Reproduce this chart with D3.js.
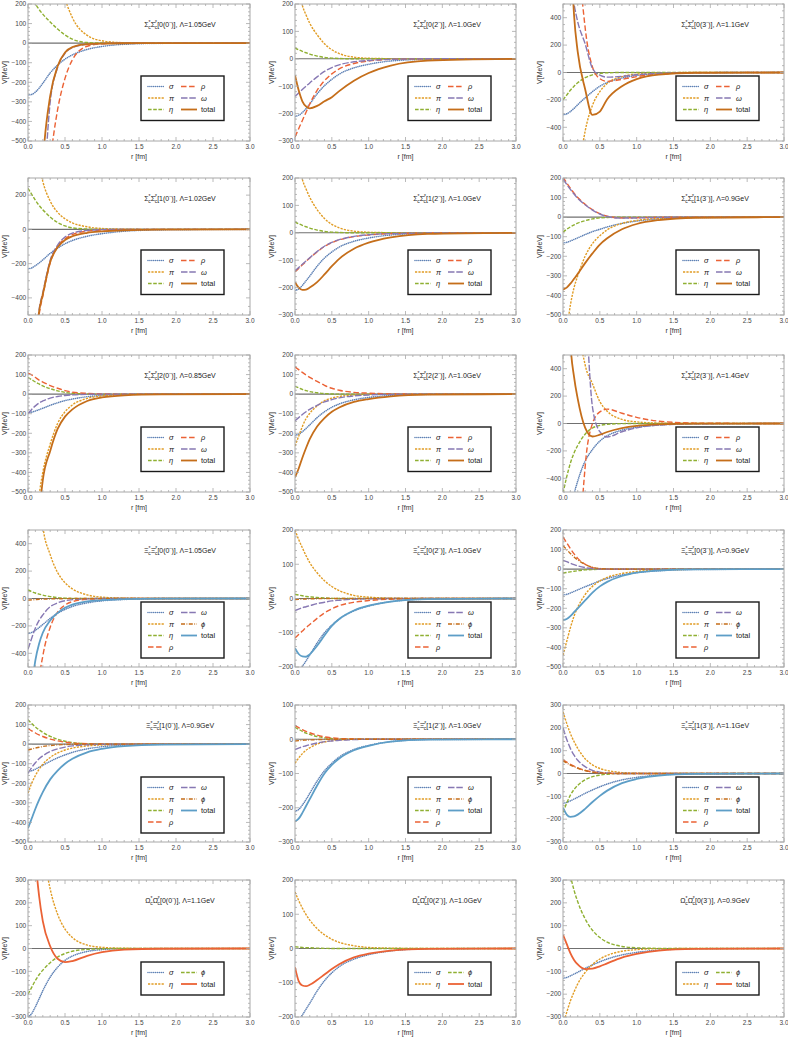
<!DOCTYPE html>
<html>
<head>
<meta charset="utf-8">
<script src="https://cdn.jsdelivr.net/npm/d3@7"></script>
<style>
body { margin: 0; background: #fff; }
text { font-family: "Liberation Sans", Arial, sans-serif; }
</style>
</head>
<body>
<div id="chart"></div>
<script>
// r grid (fm) shared by every curve
const R = [0, .05, .1, .15, .2, .3, .4, .5, .6, .8, 1.0, 1.3, 1.8, 3.0];

// panel titles
const systems = ["Σ","Σ","Σ","Σ","Σ","Σ","Σ","Σ","Σ","Ξ","Ξ","Ξ","Ξ","Ξ","Ξ","Ω","Ω","Ω"];
const states = ["0(0⁻)","0(2⁻)","0(3⁻)","1(0⁻)","1(2⁻)","1(3⁻)","2(0⁻)","2(2⁻)","2(3⁻)",
                "0(0⁻)","0(2⁻)","0(3⁻)","1(0⁻)","1(2⁻)","1(3⁻)","0(0⁻)","0(2⁻)","0(3⁻)"];
const lambdas = ["1.05","1.0","1.1","1.02","1.0","0.9","0.85","1.0","1.4",
                 "1.05","1.0","0.9","0.9","1.0","1.1","1.1","1.0","0.9"];
const yDomains = [[-500,200],[-300,200],[-500,500],[-500,300],[-300,200],[-500,200],
                  [-500,200],[-500,200],[-500,500],[-500,500],[-200,200],[-500,200],
                  [-500,200],[-300,100],[-300,300],[-300,300],[-200,200],[-300,300]];
const yStep = [100,100,200,200,100,100,100,100,200,200,100,100,100,100,100,100,100,100];

// V(r) in MeV, one object per panel
const p01 = {
  sigma: [-265,-262,-250,-230,-205,-152,-112,-82,-60,-32,-17,-6,-1,0],
  pi:    [2500,2000,1600,1250,1000,650,400,230,130,40,12,2,0,0],
  eta:   [260,230,200,172,148,108,72,42,20,3,0.5,0,0,0],
  rho:   [-1500,-1400,-1250,-1100,-950,-600,-340,-180,-85,-16,-3,0,0,0],
  omega: [-1800,-1600,-1400,-1150,-850,-300,-125,-52,-22,-6,-2,0,0,0],
  total: [-1700,-1500,-1300,-1000,-620,-270,-118,-48,-20,-5,-2,-0.5,0,0]
};
const p02 = {
  sigma: [-210,-206,-196,-182,-165,-128,-98,-75,-56,-33,-20,-8,-2,0],
  pi:    [330,260,195,160,130,88,55,33,19,6,2,0.5,0,0],
  eta:   [40,33,27,22,17,10,5,2.5,1,0,0,0,0,0],
  rho:   [-285,-255,-225,-195,-165,-115,-80,-55,-37,-17,-8,-2,0,0],
  omega: [-137,-125,-112,-100,-88,-66,-46,-32,-22,-11,-6,-2,0,0],
  total: [-60,-115,-155,-174,-181,-172,-155,-140,-118,-80,-52,-25,-7,0]
};
const p03 = {
  sigma: [-308,-302,-285,-262,-235,-185,-140,-100,-73,-40,-22,-9,-2,0],
  pi:    [-2500,-2000,-1500,-1100,-800,-430,-240,-140,-80,-30,-12,-3,0,0],
  eta:   [-200,-165,-130,-100,-75,-38,-17,-6,-2,0,0,0,0,0],
  rho:   [3000,2700,2200,1600,1000,330,40,-45,-65,-50,-30,-12,-2,0],
  omega: [2000,1400,700,500,370,210,30,-20,-34,-28,-16,-6,-1,0],
  total: [2500,2000,1000,420,150,-120,-310,-285,-195,-100,-48,-15,-2,0]
};
const p04 = {
  sigma: [-230,-225,-212,-196,-178,-140,-110,-84,-65,-40,-25,-11,-3,0],
  pi:    [900,700,520,380,280,165,100,62,38,15,5,1,0,0],
  eta:   [240,205,170,140,115,72,40,20,9,2,0,0,0,0],
  rho:   [-1250,-1000,-730,-500,-390,-195,-100,-55,-30,-10,-3,-0.5,0,0],
  omega: [-1150,-950,-690,-470,-370,-180,-92,-45,-22,-6,-1.5,0,0,0],
  total: [-1200,-950,-700,-480,-380,-190,-105,-62,-40,-20,-12,-5,-1,0]
};
const p05 = {
  sigma: [-210,-205,-192,-175,-158,-122,-92,-70,-52,-31,-19,-8,-2,0],
  pi:    [330,260,195,160,130,85,52,31,18,6,2,0.5,0,0],
  eta:   [40,33,27,22,17,10,5,2.5,1,0,0,0,0,0],
  rho:   [-142,-130,-117,-104,-92,-70,-50,-36,-26,-14,-8,-3,-1,0],
  omega: [-138,-127,-115,-103,-91,-68,-49,-35,-25,-13,-7,-3,-1,0],
  total: [-180,-200,-208,-207,-200,-180,-152,-122,-95,-58,-36,-17,-4,0]
};
const p06 = {
  sigma: [-132,-129,-122,-114,-106,-89,-74,-62,-50,-32,-20,-9,-2,0],
  pi:    [-700,-580,-450,-360,-300,-200,-135,-95,-65,-32,-17,-6,-1,0],
  eta:   [-76,-62,-50,-40,-31,-18,-9,-4,-2,0,0,0,0,0],
  rho:   [205,175,148,122,100,66,38,18,5,-4,-3,-1,0,0],
  omega: [195,168,142,118,96,63,36,16,3,-5,-4,-1,0,0],
  total: [-370,-360,-340,-315,-290,-235,-185,-140,-108,-62,-35,-15,-3,0]
};
const p07 = {
  sigma: [-95,-92,-86,-79,-72,-57,-44,-33,-25,-13,-7,-2,0,0],
  pi:    [-1500,-1100,-720,-520,-400,-255,-150,-90,-55,-22,-9,-2,0,0],
  eta:   [85,74,62,52,42,28,17,9,4,1,0,0,0,0],
  rho:   [108,98,85,72,62,44,30,18,10,4,1,0,0,0],
  omega: [-100,-78,-60,-45,-35,-20,-12,-7,-4,-1,0,0,0,0],
  total: [-1600,-1200,-850,-620,-440,-290,-178,-115,-78,-35,-17,-6,-1,0]
};
const p08 = {
  sigma: [-210,-205,-192,-175,-157,-120,-90,-67,-50,-29,-17,-7,-1,0],
  pi:    [-265,-215,-165,-125,-98,-60,-34,-20,-12,-4,-1,0,0,0],
  eta:   [40,32,24,18,13,7,3,1,0,0,0,0,0,0],
  rho:   [140,125,111,98,86,65,45,30,20,9,5,1.5,0,0],
  omega: [-136,-120,-104,-90,-78,-57,-40,-28,-19,-9,-4,-1,0,0],
  total: [-425,-380,-325,-275,-230,-165,-122,-90,-68,-40,-25,-11,-2,0]
};
const p09 = {
  sigma: [-1100,-900,-700,-520,-420,-275,-190,-128,-90,-48,-27,-11,-2,0],
  pi:    [4000,3000,2000,1400,800,430,290,160,90,30,12,3,0,0],
  eta:   [-510,-390,-290,-215,-160,-78,-33,-14,-6,-1,0,0,0,0],
  rho:   [-5000,-4500,-4000,-3000,-1500,-320,0,85,105,75,45,17,3,0],
  omega: [6000,5000,4000,3000,2200,1000,120,-60,-98,-60,-32,-12,-2,0],
  total: [3000,1500,600,340,180,-30,-95,-82,-62,-34,-17,-6,-1,0]
};
const p10 = {
  sigma: [-255,-248,-232,-212,-190,-145,-108,-80,-58,-32,-17,-7,-1,0],
  pi:    [2500,1800,1200,800,530,320,190,115,70,26,10,3,0,0],
  eta:   [62,50,40,32,25,14,7,3,1,0,0,0,0,0],
  rho:   [-2000,-1500,-1000,-600,-420,-210,-100,-48,-23,-6,-2,0,0,0],
  omega: [-370,-290,-215,-160,-120,-60,-32,-16,-8,-2,0,0,0,0],
  phi:   [-12,-10,-8,-6,-5,-3,-2,-1,0,0,0,0,0,0],
  total: [-900,-650,-450,-330,-250,-160,-105,-68,-45,-22,-12,-4,-1,0]
};
const p11 = {
  sigma: [-215,-210,-198,-182,-165,-130,-100,-78,-60,-36,-22,-9,-2,0],
  pi:    [200,172,148,125,105,75,52,35,23,9,4,1,0,0],
  eta:   [12,10,8,6,5,3,1.5,0.5,0,0,0,0,0,0],
  rho:   [-115,-105,-95,-85,-76,-58,-42,-30,-21,-11,-6,-2,0,0],
  omega: [-35,-31,-27,-24,-21,-15,-11,-7,-5,-2,-1,0,0,0],
  phi:   [-3,-2.5,-2,-1.5,-1,-0.5,0,0,0,0,0,0,0,0],
  total: [-145,-162,-169,-170,-163,-138,-108,-80,-60,-35,-21,-9,-2,0]
};
const p12 = {
  sigma: [-132,-129,-122,-114,-106,-90,-75,-60,-48,-30,-18,-8,-2,0],
  pi:    [-440,-370,-300,-240,-195,-130,-88,-60,-42,-22,-12,-4,-1,0],
  eta:   [-20,-17,-14,-11,-8,-4,-2,-1,0,0,0,0,0,0],
  rho:   [165,135,105,78,55,25,8,2,0,-0.5,0,0,0,0],
  omega: [45,38,30,23,17,8,3,1,0,0,0,0,0,0],
  phi:   [120,100,80,62,47,24,10,3,1,0,0,0,0,0],
  total: [-260,-255,-240,-220,-200,-160,-120,-88,-65,-35,-18,-7,-1,0]
};
const p13 = {
  sigma: [-140,-136,-128,-118,-108,-88,-70,-55,-42,-24,-13,-5,-1,0],
  pi:    [-250,-200,-160,-128,-103,-68,-45,-30,-20,-9,-4,-1,0,0],
  eta:   [125,105,88,73,60,40,25,15,8,2,0.5,0,0,0],
  rho:   [80,68,57,47,39,26,17,10,6,2,0.5,0,0,0],
  omega: [-150,-120,-95,-75,-60,-38,-24,-15,-9,-3,-1,0,0,0],
  phi:   [-30,-25,-20,-16,-12,-7,-4,-2,-1,0,0,0,0,0],
  total: [-430,-380,-330,-285,-245,-180,-135,-100,-75,-42,-24,-10,-2,0]
};
const p14 = {
  sigma: [-210,-205,-192,-176,-158,-122,-92,-70,-52,-30,-18,-7,-1,0],
  pi:    [-70,-55,-42,-32,-25,-14,-8,-4,-2,0,0,0,0,0],
  eta:   [35,29,23,18,14,8,4,2,1,0,0,0,0,0],
  rho:   [40,34,28,23,19,12,7,4,2,1,0,0,0,0],
  omega: [-30,-26,-22,-19,-16,-11,-7,-5,-3,-1,0,0,0,0],
  phi:   [-5,-4,-3,-2.5,-2,-1,-0.5,0,0,0,0,0,0,0],
  total: [-240,-232,-215,-195,-175,-135,-100,-75,-56,-32,-19,-7,-1,0]
};
const p15 = {
  sigma: [-130,-127,-120,-112,-104,-87,-72,-58,-46,-28,-17,-7,-1,0],
  pi:    [270,220,175,140,110,65,38,22,13,4,1,0,0,0],
  eta:   [-170,-130,-95,-70,-52,-28,-14,-7,-3,0,0,0,0,0],
  rho:   [60,50,40,32,25,14,7,3,1,0,0,0,0,0],
  omega: [200,150,110,80,58,30,14,6,2,0,0,0,0,0],
  phi:   [55,46,37,30,23,13,6,3,1,0,0,0,0,0],
  total: [-150,-180,-190,-188,-180,-155,-125,-98,-75,-42,-24,-9,-2,0]
};
const p16 = {
  sigma: [-300,-285,-255,-220,-185,-125,-82,-52,-33,-13,-5,-1,0,0],
  eta:   [1500,1100,800,600,450,260,150,85,48,15,5,1,0,0],
  phi:   [-200,-170,-140,-115,-95,-62,-38,-22,-12,-4,-1,0,0,0],
  total: [1200,700,400,230,120,10,-45,-60,-55,-32,-16,-5,-1,0]
};
const p17 = {
  sigma: [-215,-208,-194,-177,-160,-124,-94,-71,-53,-31,-18,-7,-1,0],
  eta:   [165,140,118,99,83,58,40,27,18,8,3,1,0,0],
  phi:   [5,4,3,2,2,1,0.5,0,0,0,0,0,0,0],
  total: [-55,-95,-108,-110,-106,-92,-76,-60,-46,-26,-15,-6,-1,0]
};
const p18 = {
  sigma: [-130,-127,-120,-112,-104,-87,-72,-58,-46,-28,-17,-7,-1,0],
  eta:   [-330,-280,-230,-190,-155,-105,-70,-46,-30,-12,-5,-1,0,0],
  phi:   [500,400,320,255,205,130,80,48,28,9,3,0.5,0,0],
  total: [60,20,-20,-50,-70,-90,-88,-78,-65,-40,-24,-9,-2,0]
};
const panels = [p01,p02,p03,p04,p05,p06,p07,p08,p09,p10,p11,p12,p13,p14,p15,p16,p17,p18];

const labels = {sigma:"σ", pi:"π", eta:"η", rho:"ρ", omega:"ω", phi:"ϕ", total:"total"};
const orderA = ["sigma","pi","eta","rho","omega","total"];
const orderB = ["sigma","pi","eta","rho","omega","phi","total"];
const orderC = ["sigma","eta","phi","total"];

// Mathematica style palette / dashing, picked by position in the legend
const palette = ["#5E81B5","#E19C24","#8FB032","#EB6235","#8778B3","#C56E1A","#5D9EC7"];
const dashes = ["0.01,1.9","2.2,1.2","3.6,1.6","5.5,2.6","6.5,1.8","4,1.5,0.8,1.5"];

// layout of the 6x3 grid (plot areas)
const colX = [28, 295, 563], colW = [222, 221, 221];
const rowY = [4, 178, 355, 530, 705, 880], H = 137;

const svg = d3.select("#chart").append("svg")
    .attr("width", 788)
    .attr("height", 1039);

const fmt = v => (v < 0 ? "\u2212" : "") + Math.abs(v);

const strokeW = (j, isTotal) => isTotal ? 1.8 : (j === 0 ? 1.6 : 1.4);

panels.forEach((p, i) => {
  const row = Math.floor(i / 3), col = i % 3;
  const W = colW[col];
  const order = row < 3 ? orderA : (row < 5 ? orderB : orderC);

  const g = svg.append("g")
      .attr("transform", "translate(" + colX[col] + "," + rowY[row] + ")");

  const x = d3.scaleLinear().domain([0, 3]).range([0, W]);
  const y = d3.scaleLinear().domain(yDomains[i]).range([H, 0]);

  g.append("clipPath").attr("id", "clip" + i)
    .append("rect").attr("width", W).attr("height", H);

  const plot = g.append("g").attr("clip-path", "url(#clip" + i + ")");

  // zero axis
  plot.append("line")
      .attr("x1", 0).attr("x2", W)
      .attr("y1", y(0)).attr("y2", y(0))
      .attr("stroke", "#707070").attr("stroke-width", 1.1);

  const line = d3.line()
      .x((d, j) => x(R[j]))
      .y(d => y(d))
      .curve(d3.curveMonotoneX);

  order.forEach((k, j) => {
    const isTotal = k === "total";
    plot.append("path")
        .attr("d", line(p[k]))
        .attr("fill", "none")
        .attr("stroke", palette[j])
        .attr("stroke-width", strokeW(j, isTotal))
        .attr("stroke-linecap", j === 0 && !isTotal ? "round" : "butt")
        .attr("stroke-dasharray", isTotal ? null : dashes[j]);
  });

  // frame
  g.append("rect").attr("width", W).attr("height", H)
      .attr("fill", "none").attr("stroke", "#a8a8a8").attr("stroke-width", 1);

  // ticks on all four sides, pointing inward
  const ticks = g.append("g").attr("stroke", "#a8a8a8").attr("stroke-width", 0.8);
  d3.range(0, 3.0001, 0.1).forEach(v => {
    const major = Math.abs(v * 2 - Math.round(v * 2)) < 1e-6;
    const len = major ? 4 : 2;
    ticks.append("line").attr("x1", x(v)).attr("x2", x(v)).attr("y1", H).attr("y2", H - len);
    ticks.append("line").attr("x1", x(v)).attr("x2", x(v)).attr("y1", 0).attr("y2", len);
  });
  const s = yStep[i], minor = s === 200 ? 50 : 20;
  const [y0, y1] = yDomains[i];
  d3.range(Math.ceil(y0 / minor) * minor, y1 + 0.001, minor).forEach(v => {
    const major = v % s === 0;
    const len = major ? 4 : 2;
    ticks.append("line").attr("x1", 0).attr("x2", len).attr("y1", y(v)).attr("y2", y(v));
    ticks.append("line").attr("x1", W).attr("x2", W - len).attr("y1", y(v)).attr("y2", y(v));
  });

  // tick labels
  d3.range(0, 3.0001, 0.5).forEach(v => {
    g.append("text").attr("x", x(v)).attr("y", H + 7.5)
        .attr("text-anchor", "middle").attr("font-size", 6.5).attr("fill", "#444")
        .text(v.toFixed(1));
  });
  d3.range(Math.ceil(y0 / s) * s, y1 + 0.001, s).forEach(v => {
    g.append("text").attr("x", -1.8).attr("y", y(v) + 2.3)
        .attr("text-anchor", "end").attr("font-size", 6.5).attr("fill", "#444")
        .text(fmt(v));
  });

  // axis labels
  g.append("text").attr("x", W / 2).attr("y", H + 18)
      .attr("text-anchor", "middle").attr("font-size", 7).attr("fill", "#333")
      .text("r [fm]");
  g.append("text")
      .attr("transform", "translate(-21," + (H / 2) + ") rotate(-90)")
      .attr("text-anchor", "middle").attr("font-size", 7).attr("fill", "#333")
      .text("V[MeV]");

  // title like  Σc*Σ̄c*[0(0⁻)], Λ=1.05GeV
  const t = g.append("text").attr("x", 152).attr("y", 23)
      .attr("text-anchor", "middle").attr("font-size", 7).attr("fill", "#222");
  const sys = systems[i];
  t.append("tspan").text(sys);
  t.append("tspan").attr("font-size", 5).attr("dy", -2.6).text("*");
  t.append("tspan").attr("font-size", 5).attr("dx", -2.3).attr("dy", 4.6).text("c");
  t.append("tspan").attr("dy", -2).text(sys + "\u0304");
  t.append("tspan").attr("font-size", 5).attr("dy", -2.6).text("*");
  t.append("tspan").attr("font-size", 5).attr("dx", -2.3).attr("dy", 4.6).text("c");
  t.append("tspan").attr("dy", -2).text("[" + states[i] + "], Λ=" + lambdas[i] + "GeV");

  // legend box
  const nrows = Math.ceil(order.length / 2);
  const lg = g.append("g").attr("transform", "translate(113," + (row < 5 ? 72 : 82) + ")");
  lg.append("rect").attr("width", 83).attr("height", 10 + 11.5 * nrows)
      .attr("fill", "#fff").attr("stroke", "#1a1a1a").attr("stroke-width", 1.4);
  order.forEach((k, j) => {
    const c = j < nrows ? 0 : 1, rr = c ? j - nrows : j;
    const yy = 10.5 + 11.5 * rr;
    const lx = c ? 40 : 7;
    const isTotal = k === "total";
    lg.append("line").attr("x1", lx).attr("x2", lx + 16).attr("y1", yy).attr("y2", yy)
        .attr("stroke", palette[j])
        .attr("stroke-width", strokeW(j, isTotal))
        .attr("stroke-linecap", j === 0 && !isTotal ? "round" : "butt")
        .attr("stroke-dasharray", isTotal ? null : dashes[j]);
    lg.append("text").attr("x", lx + (c ? 20 : 21)).attr("y", yy + 2.6)
        .attr("font-size", 7.5).attr("fill", "#222")
        .attr("font-style", isTotal ? "normal" : "italic")
        .text(labels[k]);
  });
});
</script>
</body>
</html>
